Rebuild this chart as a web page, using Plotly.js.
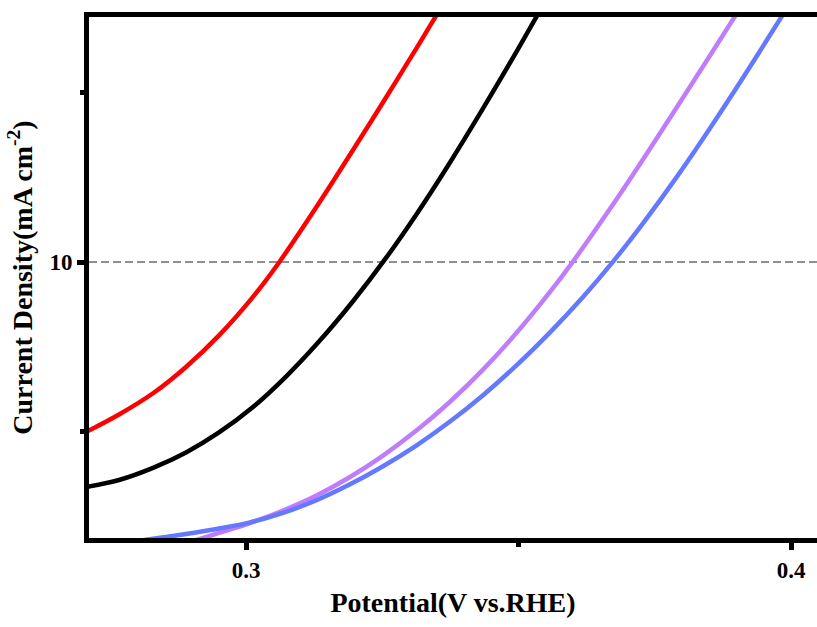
<!DOCTYPE html>
<html>
<head>
<meta charset="utf-8">
<script src="https://cdn.plot.ly/plotly-3.0.1.min.js"></script>
<style>html,body{margin:0;padding:0;background:#fff;}#chart{width:817px;height:627px;}</style>
</head>
<body>
<div id="chart"></div>
<script>
// Potential (V vs. RHE) and current density (mA cm^-2)
const redX = [0.27064, 0.27670, 0.28294, 0.28899, 0.29505, 0.30128, 0.30606, 0.31339, 0.31963, 0.32569, 0.33174, 0.33431, 0.33600];
const redY = [5.000, 5.515, 6.139, 6.913, 7.840, 8.974, 9.987, 11.732, 13.292, 14.837, 16.410, 17.091, 17.540];

const blackX = [0.27064, 0.27670, 0.28294, 0.28899, 0.29505, 0.30128, 0.30734, 0.31339, 0.31963, 0.32569, 0.33138, 0.33743, 0.34349, 0.34972, 0.35339, 0.35500];
const blackY = [3.382, 3.588, 3.944, 4.398, 4.986, 5.734, 6.631, 7.660, 8.846, 10.119, 11.428, 12.928, 14.516, 16.211, 17.239, 17.690];

const purpleX = [0.28800, 0.29083, 0.29505, 0.30073, 0.30679, 0.31303, 0.31908, 0.32514, 0.33138, 0.33743, 0.34349, 0.34972, 0.35578, 0.35982, 0.36679, 0.37284, 0.37908, 0.38514, 0.38972, 0.39120];
const purpleY = [1.680, 1.820, 2.030, 2.320, 2.690, 3.140, 3.676, 4.306, 5.055, 5.890, 6.835, 7.931, 9.119, 9.975, 11.564, 13.016, 14.557, 16.072, 17.226, 17.600];

const blueX = [0.27750, 0.27927, 0.28294, 0.28899, 0.29505, 0.30073, 0.30679, 0.31303, 0.31908, 0.32514, 0.33138, 0.33743, 0.34349, 0.34972, 0.35578, 0.36183, 0.36716, 0.37284, 0.37908, 0.38514, 0.39119, 0.39853, 0.40000];
const blueY = [1.720, 1.770, 1.860, 2.000, 2.160, 2.340, 2.620, 3.000, 3.460, 3.993, 4.617, 5.307, 6.083, 6.974, 7.931, 8.972, 9.974, 11.138, 12.511, 13.935, 15.417, 17.281, 17.650];

const refLevel = 10;
const xTickVals = [0.3, 0.4];
const xTickText = ['0.3', '0.4'];
const yTickVals = [10];
const yTickText = ['10'];

const series = [
  {x: redX, y: redY, color: '#FF0000'},
  {x: blackX, y: blackY, color: '#000000'},
  {x: purpleX, y: purpleY, color: '#BF7DFB'},
  {x: blueX, y: blueY, color: '#6479FF'}
];

const traces = series.map(s => ({
  x: s.x, y: s.y, type: 'scatter', mode: 'lines',
  line: {color: s.color, width: 4.5, shape: 'spline', smoothing: 1},
  hoverinfo: 'skip', cliponaxis: true
}));

const fontFam = '"Liberation Serif", "Times New Roman", serif';

const layout = {
  width: 817, height: 627,
  margin: {l: 89, r: 0, t: 17, b: 89},
  paper_bgcolor: '#ffffff', plot_bgcolor: '#ffffff',
  showlegend: false,
  font: {family: fontFam, color: '#000', size: 22},
  xaxis: {
    range: [0.27119, 0.40477],
    showgrid: false, zeroline: false,
    showline: true, linecolor: '#000', linewidth: 5, mirror: true,
    tickmode: 'array', tickvals: xTickVals, ticktext: xTickText,
    ticks: 'outside', ticklen: 7, tickwidth: 5, tickcolor: '#000',
    tickfont: {family: fontFam, size: 23, weight: 'bold', color: '#000'},
    minor: {dtick: 0.05, tick0: 0, ticks: 'outside', ticklen: 4, tickwidth: 5, tickcolor: '#000', showgrid: false},
    title: {text: 'Potential(V vs.RHE)', font: {family: fontFam, size: 28, weight: 'bold', color: '#000'}, standoff: 12}
  },
  yaxis: {
    range: [1.882, 17.206],
    showgrid: false, zeroline: false,
    showline: true, linecolor: '#000', linewidth: 5, mirror: false,
    tickmode: 'array', tickvals: yTickVals, ticktext: yTickText,
    ticks: 'outside', ticklen: 7, tickwidth: 5, tickcolor: '#000',
    tickfont: {family: fontFam, size: 23, weight: 'bold', color: '#000'},
    minor: {dtick: 5, tick0: 0, ticks: 'outside', ticklen: 4, tickwidth: 5, tickcolor: '#000', showgrid: false},
    title: {text: 'Current Density(mA cm<sup>-2</sup>)', font: {family: fontFam, size: 28, weight: 'bold', color: '#000'}, standoff: 10}
  },
  shapes: [{
    type: 'line', xref: 'paper', yref: 'y', x0: 0, x1: 1, y0: refLevel, y1: refLevel,
    line: {color: '#222', width: 1, dash: '8px,4px'}, layer: 'below'
  }]
};

Plotly.newPlot('chart', traces, layout, {displayModeBar: false, staticPlot: true});
</script>
</body>
</html>
